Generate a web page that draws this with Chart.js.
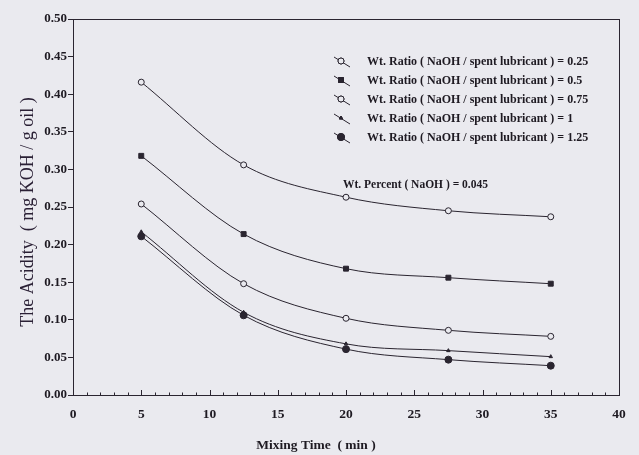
<!DOCTYPE html>
<html>
<head>
<meta charset="utf-8">
<script src="https://cdn.jsdelivr.net/npm/chart.js@4.4.1/dist/chart.umd.min.js"></script>
<style>
  html, body { margin: 0; padding: 0; background: #eaeaef; }
  #wrap { width: 639px; height: 455px; }
</style>
</head>
<body>
<div id="wrap"><canvas id="acidityChart" width="639" height="455"></canvas></div>
<script>
// mixing time (min) and acidity (mg KOH / g oil) per NaOH / spent lubricant ratio
const mixingTime = [5, 12.5, 20, 27.5, 35];
const ratio025 = [0.416, 0.306, 0.263, 0.245, 0.237];
const ratio05  = [0.318, 0.214, 0.168, 0.156, 0.148];
const ratio075 = [0.254, 0.148, 0.102, 0.086, 0.078];
const ratio1   = [0.217, 0.110, 0.068, 0.059, 0.051];
const ratio125 = [0.211, 0.106, 0.061, 0.047, 0.039];
const ratioLabels = ['0.25', '0.5', '0.75', '1', '1.25'];
const yTicks = [0, 0.05, 0.1, 0.15, 0.2, 0.25, 0.3, 0.35, 0.4, 0.45, 0.5];
const xTicks = [0, 5, 10, 15, 20, 25, 30, 35, 40];

const ink = '#2a2530';
const serif = '"Liberation Serif", "DejaVu Serif", serif';

function toPoints(values) {
    return mixingTime.map((t, i) => ({ x: t, y: values[i] }));
}

const seriesStyle = [
    { style: 'circle', radius: 3, fill: '#eaeaef' },
    { style: 'rect', radius: 3.5, fill: ink },
    { style: 'circle', radius: 3, fill: '#eaeaef' },
    { style: 'triangle', radius: 2, fill: ink },
    { style: 'circle', radius: 3.5, fill: ink }
];

const datasets = [ratio025, ratio05, ratio075, ratio1, ratio125].map((vals, i) => ({
    label: 'Wt. Ratio ( NaOH / spent lubricant ) = ' + ratioLabels[i],
    data: toPoints(vals),
    borderColor: ink,
    borderWidth: 1,
    cubicInterpolationMode: 'monotone',
    pointStyle: seriesStyle[i].style,
    pointRadius: seriesStyle[i].radius,
    pointBackgroundColor: seriesStyle[i].fill,
    pointBorderColor: ink,
    pointBorderWidth: 1
}));

// background, frame, inward x ticks, axis titles and the legend box inside the plot
const paperPlugin = {
    id: 'paper',
    beforeDraw(chart) {
        const ctx = chart.ctx;
        ctx.save();
        ctx.fillStyle = '#eaeaef';
        ctx.fillRect(0, 0, chart.width, chart.height);
        ctx.restore();
    },
    afterDraw(chart) {
        const { ctx, chartArea: a, scales: { x } } = chart;
        ctx.save();
        ctx.strokeStyle = ink;
        ctx.lineWidth = 1;
        ctx.strokeRect(a.left + 0.5, a.top + 0.5, a.right - a.left, a.bottom - a.top);

        // x ticks point up into the plot, minor every minute
        for (let v = 0; v <= 40; v++) {
            const px = Math.round(x.getPixelForValue(v)) + 0.5;
            const len = v % 5 === 0 ? 5 : 2.5;
            ctx.beginPath();
            ctx.moveTo(px, a.bottom);
            ctx.lineTo(px, a.bottom - len);
            ctx.stroke();
        }

        // axis titles
        ctx.fillStyle = '#1e1a22';
        ctx.textAlign = 'center';
        ctx.textBaseline = 'middle';
        ctx.font = 'bold 13.5px ' + serif;
        ctx.fillText('Mixing Time  ( min )', 316, 446);
        ctx.save();
        ctx.translate(28, 212);
        ctx.rotate(-Math.PI / 2);
        ctx.fillStyle = '#2a2035';
        ctx.font = '18px ' + serif;
        ctx.fillText('The Acidity  ( mg KOH / g oil )', 0, 0);
        ctx.restore();

        // legend
        ctx.textAlign = 'left';
        ctx.font = 'bold 12px ' + serif;
        chart.data.datasets.forEach((ds, i) => {
            const yy = 62 + i * 19;
            ctx.beginPath();
            ctx.moveTo(334, yy - 5);
            ctx.lineTo(350, yy + 5);
            ctx.stroke();
            Chart.helpers.drawPoint(ctx, {
                pointStyle: ds.pointStyle,
                radius: ds.pointRadius,
                borderWidth: 1
            }, 341, yy - 1);
            ctx.fillStyle = ds.pointBackgroundColor;
            ctx.fill();
            ctx.stroke();
            ctx.fillStyle = '#1e1a22';
            ctx.fillText(ds.label, 367, yy);
        });
        ctx.font = 'bold 11.5px ' + serif;
        ctx.fillText('Wt. Percent ( NaOH ) = 0.045', 343, 185);
        ctx.restore();
    }
};

new Chart(document.getElementById('acidityChart'), {
    type: 'line',
    data: { datasets: datasets },
    options: {
        responsive: false,
        animation: false,
        layout: { padding: { top: 19, right: 20, bottom: 0, left: 0 } },
        plugins: {
            legend: { display: false },
            tooltip: { enabled: false }
        },
        scales: {
            x: {
                type: 'linear',
                min: 0,
                max: 40,
                afterBuildTicks: scale => { scale.ticks = xTicks.map(v => ({ value: v })); },
                afterFit: scale => { scale.height = 60; },
                grid: { display: false, drawTicks: false },
                border: { display: true, color: ink, width: 1 },
                ticks: {
                    padding: 11,
                    color: '#1e1a22',
                    font: { family: serif, size: 13.5, weight: 'bold' }
                }
            },
            y: {
                min: 0,
                max: 0.5,
                afterBuildTicks: scale => { scale.ticks = yTicks.map(v => ({ value: v })); },
                afterFit: scale => { scale.width = 73; },
                grid: { display: true, drawOnChartArea: false, drawTicks: true, tickLength: 5, color: ink },
                border: { display: true, color: ink, width: 1 },
                ticks: {
                    padding: 1,
                    color: '#1e1a22',
                    font: { family: serif, size: 13, weight: 'bold' },
                    callback: v => v.toFixed(2)
                }
            }
        }
    },
    plugins: [paperPlugin]
});
</script>
</body>
</html>
